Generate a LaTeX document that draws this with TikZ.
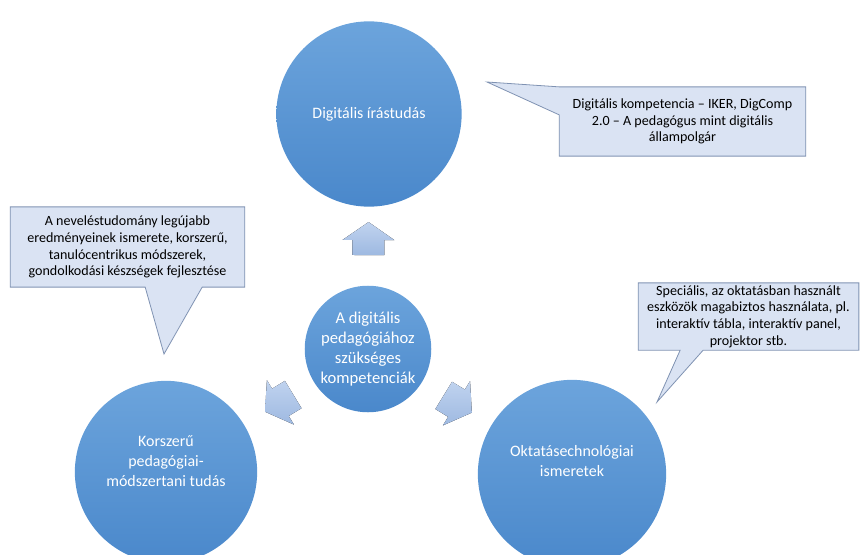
\documentclass[tikz,border=0pt]{standalone}
\usepackage{fontspec}
\setmainfont{Carlito}
\usetikzlibrary{calc}

\definecolor{discTop}{HTML}{6CA4DC}
\definecolor{discBot}{HTML}{4A88CB}
\definecolor{noteFill}{HTML}{DAE3F3}
\definecolor{noteLine}{HTML}{7F92B2}
\definecolor{arrTop}{HTML}{C0D3EF}
\definecolor{arrBot}{HTML}{9EB9E1}

\tikzset{
  disc/.style={circle, inner sep=0pt, top color=discTop, bottom color=discBot,
    text=white, align=center, font=\fontsize{12}{15}\selectfont},
  note/.style={rectangle, inner sep=0pt, fill=noteFill, align=center,
    font=\fontsize{10.6}{12.6}\selectfont},
  noteline/.style={draw=noteLine, line width=0.6pt},
  radarrow/.pic={
    \fill[top color=arrTop, bottom color=arrBot] (-1.65,-1.6) -- (-0.15,-1.6) -- (-0.15,-2.6)
      -- (1.65,0) -- (-0.15,2.6) -- (-0.15,1.6) -- (-1.65,1.6) -- cycle;
  }
}

\begin{document}
\begin{tikzpicture}[scale=0.2646]
            \useasboundingbox (0,0) rectangle (86,-55.5);
            % the four discs
            \node[disc, minimum size=139.5pt] (lit) at (36.9,-11.4) {Digitális írástudás};
            \node[disc, minimum size=95.25pt, font=\fontsize{12.5}{15}\selectfont] (comp) at (36.8,-34.9)
              {A digitális\\pedagógiához\\szükséges\\kompetenciák};
            \node[disc, minimum size=137.25pt, text depth=16pt] (ped) at (16.6,-47.2)
              {Korszerű\\pedagógiai-\\módszertani tudás};
            \node[disc, minimum size=141.75pt, text depth=20pt] (tech) at (57.2,-47.4)
              {Oktatásechnológiai\\ismeretek};
            % block arrows from the centre
            \path (comp.center) -- (lit.center) pic[pos=0.47, sloped, allow upside down, transform shape] {radarrow};
            \path (comp.center) -- (ped.center) pic[pos=0.44, sloped, allow upside down, transform shape] {radarrow};
            \path (comp.center) -- (tech.center) pic[pos=0.44, sloped, allow upside down, transform shape] {radarrow};
            % callout: top
            \node[note, minimum width=185.25pt, minimum height=51.75pt] (litnote) at (68.25,-12.15)
              {Digitális kompetencia – IKER, DigComp\\2.0 – A pedagógus mint digitális\\állampolgár};
            \coordinate (littip) at (48.7,-8.2);
            \fill[noteFill] (litnote.north west) -- (littip) -- ($(litnote.north west)+(0,-2.8)$) -- cycle;
            \draw[noteline] (litnote.north west) -- (littip) -- ($(litnote.north west)+(0,-2.8)$)
              -- (litnote.south west) -- (litnote.south east) -- (litnote.north east) -- cycle;
            % callout: left
            \node[note, minimum width=176.25pt, minimum height=60pt] (pednote) at (12.75,-24.7)
              {A neveléstudomány legújabb\\eredményeinek ismerete, korszerű,\\tanulócentrikus módszerek,\\gondolkodási készségek fejlesztése};
            \coordinate (pedtip) at (16.4,-35.4);
            \fill[noteFill] ($(pednote.south west)+(13.5,0)$) -- (pedtip) -- ($(pednote.south west)+(19.2,0)$) -- cycle;
            \draw[noteline] (pednote.north west) -- (pednote.north east) -- (pednote.south east)
              -- ($(pednote.south west)+(19.2,0)$) -- (pedtip) -- ($(pednote.south west)+(13.5,0)$)
              -- (pednote.south west) -- cycle;
            % callout: right
            \node[note, minimum width=165.75pt, minimum height=50.25pt] (technote) at (74.85,-31.65)
              {Speciális, az oktatásban használt\\eszközök magabiztos használata, pl.\\interaktív tábla, interaktív panel,\\projektor stb.};
            \coordinate (techtip) at (65.7,-40.2);
            \fill[noteFill] ($(technote.south west)+(4.2,0)$) -- (techtip) -- ($(technote.south west)+(6.5,0)$) -- cycle;
            \draw[noteline] (technote.north west) -- (technote.north east) -- (technote.south east)
              -- ($(technote.south west)+(6.5,0)$) -- (techtip) -- ($(technote.south west)+(4.2,0)$)
              -- (technote.south west) -- cycle;
\end{tikzpicture}
\end{document}
